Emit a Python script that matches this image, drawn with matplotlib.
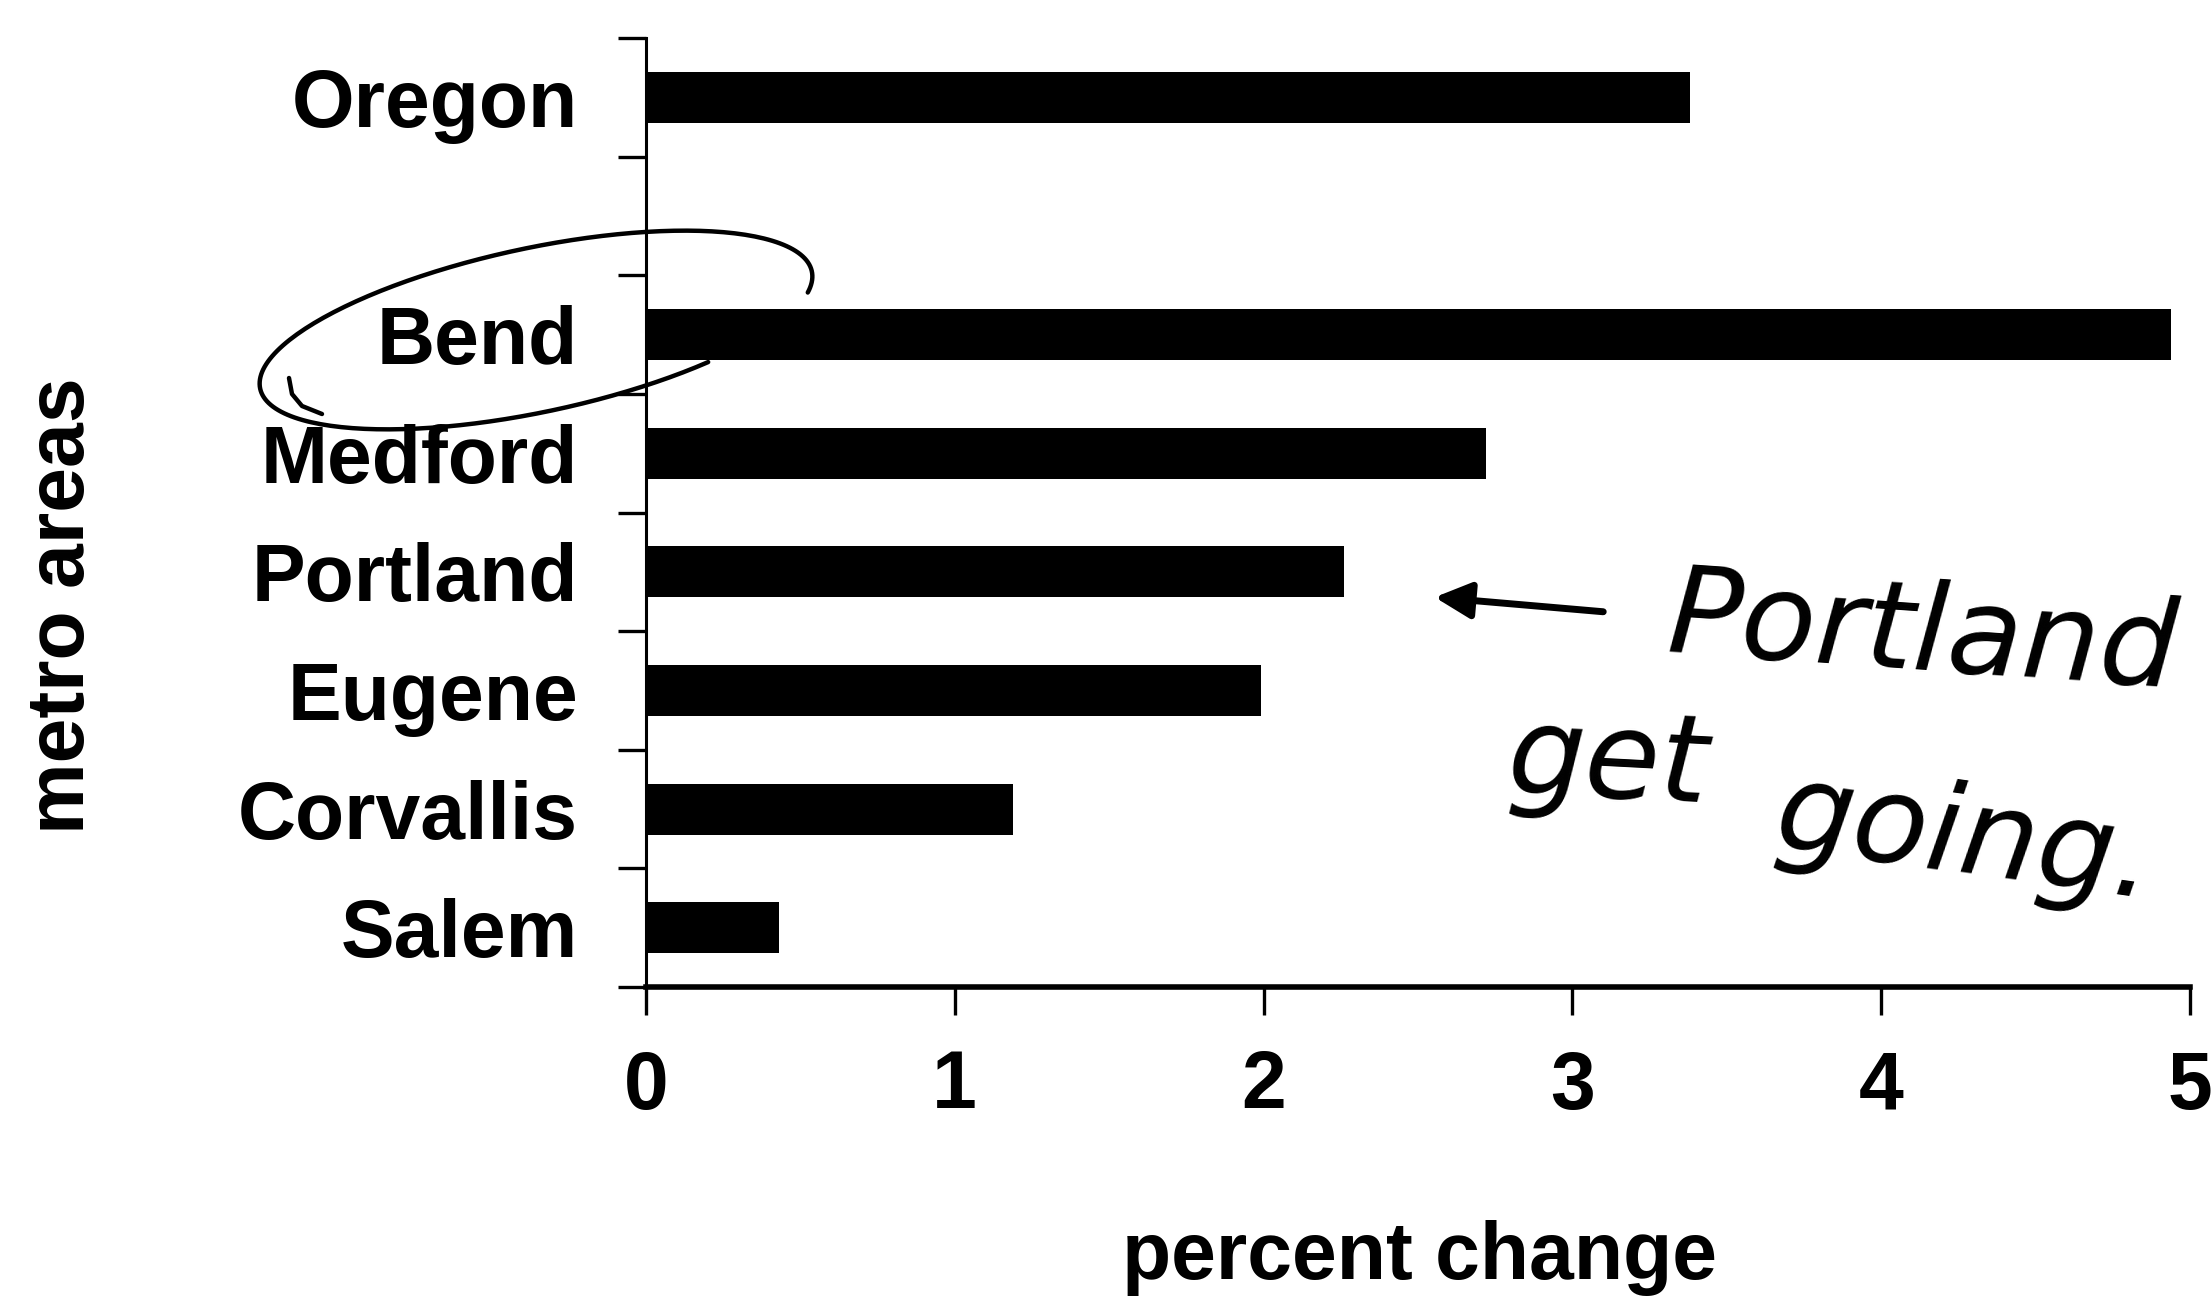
import numpy as np
import matplotlib
matplotlib.use("Agg")
import matplotlib.pyplot as plt

# percent change by metro area (blank slot separates the state total)
areas = ["Oregon", "", "Bend", "Medford", "Portland", "Eugene", "Corvallis", "Salem"]
pct_change = [3.38, np.nan, 4.94, 2.72, 2.26, 1.99, 1.19, 0.43]
x_ticks = [0, 1, 2, 3, 4, 5]

W, H = 2211, 1298
plt.rcParams['font.family'] = ['Liberation Sans', 'DejaVu Sans']
plt.rcParams['font.weight'] = 'bold'

fig = plt.figure(figsize=(W / 100, H / 100), dpi=100)
fig.patch.set_facecolor('white')

# axes box in pixels: left 646, right 2190, top 38, bottom 987
ax = fig.add_axes([646 / W, 1 - 987 / H, (2190 - 646) / W, (987 - 38) / H])
pos = np.arange(len(areas))
ax.barh(pos, pct_change, height=0.43, color='black', zorder=3)

ax.set_xlim(0, 5)
ax.set_ylim(len(areas) - 0.5, -0.5)

for s in ['top', 'right']:
    ax.spines[s].set_visible(False)
ax.spines['left'].set_linewidth(2.2)
ax.spines['bottom'].set_linewidth(4)

# ticks sit between categories, labels at category centres
ax.set_yticks(np.arange(-0.5, len(areas)), labels=[])
ax.set_yticks(pos, labels=areas, minor=True)
ax.tick_params(axis='y', which='major', direction='out', length=20, width=2.4)
ax.tick_params(axis='y', which='minor', length=0, pad=49, labelsize=58)

ax.set_xticks(x_ticks, labels=[str(t) for t in x_ticks])
ax.tick_params(axis='x', direction='out', length=20, width=2.4, pad=25, labelsize=58)

fig.text(63 / W, 1 - 606 / H, "metro areas", rotation=90, ha='center', va='center',
         fontsize=58, fontweight='bold')
fig.text(1419 / W, 1 - 1279 / H, "percent change", ha='center', va='baseline',
         fontsize=58, fontweight='bold')

# pen notes drawn on top of the chart, in pixel units
ov = fig.add_axes([0, 0, 1, 1], zorder=10)
ov.set_xlim(0, W)
ov.set_ylim(H, 0)
ov.axis('off')
ov.patch.set_alpha(0)

cx, cy, a, b, th = 536, 330, 282, 82, np.radians(12)
t = np.radians(np.linspace(-14, 305, 200))
ex = a * np.cos(t)
ey = b * np.sin(t)
px = cx + ex * np.cos(th) - ey * np.sin(th)
py = cy - (ex * np.sin(th) + ey * np.cos(th))
ov.plot(px, py, color='black', lw=3.2, solid_capstyle='round')
ov.plot([289, 292, 302, 322], [378, 394, 406, 414], color='black', lw=3.2,
        solid_capstyle='round')

ov.annotate("", xy=(1432, 597), xytext=(1606, 612),
            arrowprops=dict(arrowstyle='-|>', lw=5, color='black', mutation_scale=55))

pen = dict(fontsize=88, style='italic', fontweight='normal', family='DejaVu Sans',
           ha='left', va='baseline', rotation_mode='anchor')
ov.text(1666, 652, "Portland", rotation=-4, **pen)
ov.text(1505, 792, "get", rotation=-3, **pen)
ov.text(1772, 846, "going.", rotation=-8, **pen)

fig.savefig("out.png", dpi=100)
